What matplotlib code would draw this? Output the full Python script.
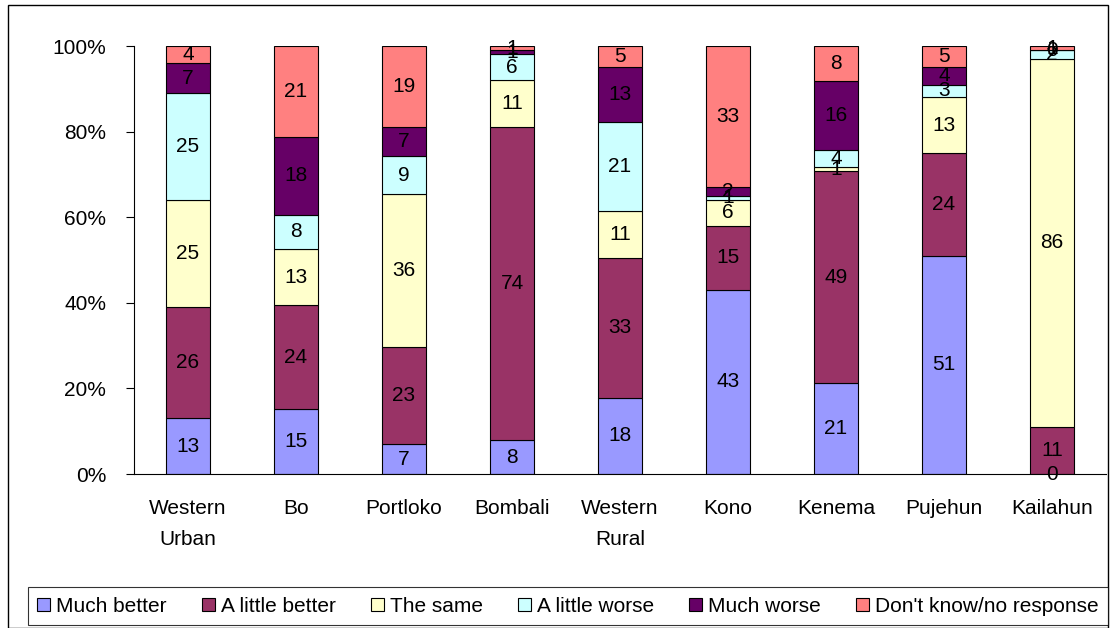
import numpy as np
import matplotlib
matplotlib.use("Agg")
import matplotlib.pyplot as plt
from matplotlib.patches import Rectangle

plt.rcParams['font.family'] = ['Liberation Sans', 'DejaVu Sans']

# данные
districts = ['Western\nUrban', 'Bo', 'Portloko', 'Bombali', 'Western\nRural',
             'Kono', 'Kenema', 'Pujehun', 'Kailahun']
series = ['Much better', 'A little better', 'The same', 'A little worse',
          'Much worse', "Don't know/no response"]
much_better = [13, 15, 7, 8, 18, 43, 21, 51, 0]
little_better = [26, 24, 23, 74, 33, 15, 49, 24, 11]
the_same = [25, 13, 36, 11, 11, 6, 1, 13, 86]
little_worse = [25, 8, 9, 6, 21, 1, 4, 3, 2]
much_worse = [7, 18, 7, 1, 13, 2, 16, 4, 0]
dont_know = [4, 21, 19, 1, 5, 33, 8, 5, 1]
colors = ['#9999FF', '#993366', '#FFFFCC', '#CCFFFF', '#660066', '#FF8080']

values = np.array([much_better, little_better, the_same, little_worse,
                   much_worse, dont_know], dtype=float)
shares = values / values.sum(axis=0) * 100

fs = 15

fig = plt.figure(figsize=(11.12, 6.28), dpi=100)
ax = fig.add_axes([134 / 1112, 1 - 474 / 628, 972 / 1112, 428 / 628])

x = np.arange(len(districts))
bottom = np.zeros(len(districts))
for i, name in enumerate(series):
    ax.bar(x, shares[i], 0.41, bottom=bottom, color=colors[i],
           edgecolor='black', linewidth=0.8, label=name)
    for j in range(len(districts)):
        ax.text(x[j], bottom[j] + shares[i][j] / 2, f"{int(values[i][j])}",
                ha='center', va='center', fontsize=fs)
    bottom += shares[i]

ax.set_xlim(-0.5, len(districts) - 0.5)
ax.set_ylim(0, 100)
ax.set_yticks(np.arange(0, 101, 20))
ax.set_yticklabels([f"{v}%" for v in range(0, 101, 20)], fontsize=fs)
ax.set_xticks(x)
ax.set_xticklabels(districts, fontsize=fs, linespacing=1.8)
ax.tick_params(axis='x', length=0, pad=18)
ax.tick_params(axis='y', length=6, direction='out', pad=14)
for s in ['top', 'right']:
    ax.spines[s].set_visible(False)
ax.spines['left'].set_linewidth(0.8)
ax.spines['bottom'].set_linewidth(0.8)

leg = fig.legend(loc='lower left', mode='expand',
                 bbox_to_anchor=(28 / 1112, 3 / 628, 1080 / 1112, 40 / 628),
                 ncol=6, fontsize=fs, frameon=True, fancybox=False,
                 edgecolor='black', handlelength=0.6, handleheight=0.6,
                 handletextpad=0.3, columnspacing=0.4, borderpad=0.45,
                 borderaxespad=0)
leg.get_frame().set_linewidth(0.8)

fig.patches.append(Rectangle((8 / 1112, 0), 1100 / 1112, 1 - 5 / 628,
                             transform=fig.transFigure, fill=False,
                             edgecolor='black', linewidth=1))

fig.savefig('out.png', dpi=100)
